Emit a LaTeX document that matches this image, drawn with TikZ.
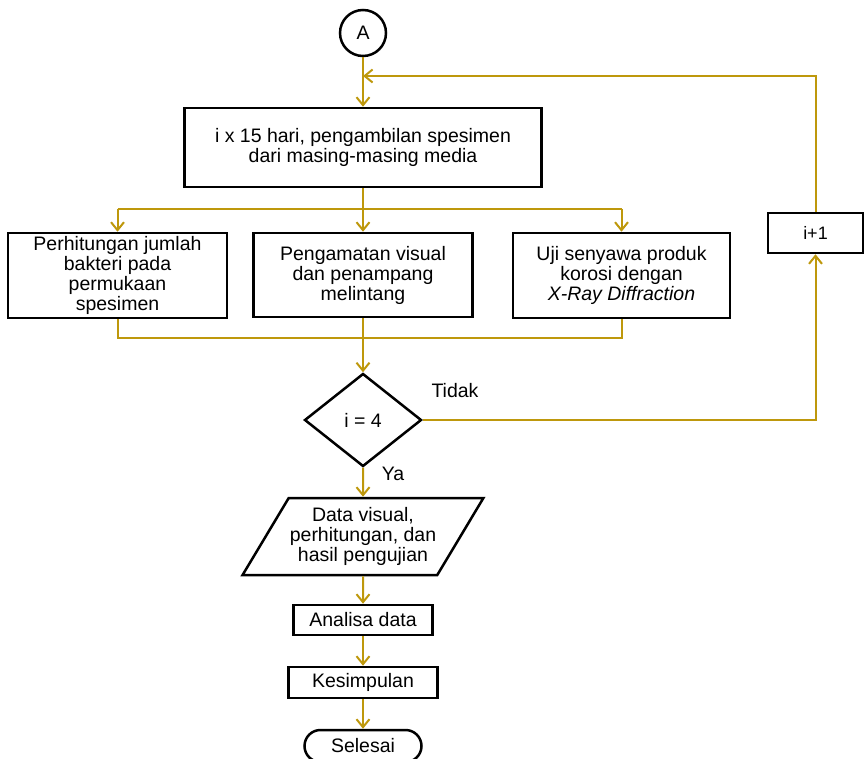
\documentclass[tikz,border=0pt]{standalone}
\usepackage{fontspec}
\setmainfont{Liberation Sans}
\usetikzlibrary{arrows.meta,shapes.geometric}
\definecolor{flowgold}{RGB}{190,152,12}

\begin{document}
\begin{tikzpicture}[x=1pt,y=-1pt,
    font=\fontsize{19.5}{20}\selectfont,
    proc/.style={draw,line width=2.5pt,align=center,inner sep=0pt},
    conn/.style={draw=flowgold,line width=2pt},
    arr/.style={conn,-{Straight Barb[length=8pt,width=13pt]}}]
    \useasboundingbox (0,0) rectangle (864,759);

    % start connector
    \node[circle,draw,line width=2.5pt,minimum size=46pt,inner sep=0pt] (A) at (363,33) {A};

    % sampling step
    \node[proc,minimum width=357pt,minimum height=79pt] (ambil) at (363,147.5) {i x 15 hari, pengambilan spesimen\\dari masing-masing media};

    % three tests
    \node[proc,minimum width=219pt,minimum height=85pt] (bakteri) at (117.5,275.5) {Perhitungan jumlah\\bakteri pada\\permukaan\\spesimen};
    \node[proc,minimum width=219pt,minimum height=84pt] (visual) at (363,275) {Pengamatan visual\\dan penampang\\melintang};
    \node[proc,minimum width=217pt,minimum height=85pt] (xrd) at (621.5,275.5) {Uji senyawa produk\\korosi dengan\\\textit{X-Ray Diffraction}};

    % decision and loop
    \node[diamond,draw,line width=2.5pt,minimum width=117pt,minimum height=93pt,inner sep=0pt] (cek) at (363,420) {i = 4};
    \node (tidak) at (455,391) {Tidak};
    \node (ya) at (393,474) {Ya};
    \node[proc,minimum width=95pt,minimum height=40pt,font=\fontsize{18}{19}\selectfont] (naik) at (815.5,233) {i+1};

    % output and end
    \node[trapezium,trapezium left angle=52,trapezium right angle=128,trapezium stretches=true,draw,line width=2.5pt,minimum width=241pt,minimum height=77pt,align=center,inner sep=0pt] (data) at (363,536.5) {Data visual,\\perhitungan, dan\\hasil pengujian};
    \node[proc,minimum width=139pt,minimum height=30pt] (analisa) at (363,620) {Analisa data};
    \node[proc,minimum width=149pt,minimum height=31pt] (simpul) at (363,682.5) {Kesimpulan};
    \node[draw,line width=2.5pt,rounded corners=16pt,minimum width=117pt,minimum height=32pt,inner sep=0pt] (selesai) at (363,746) {Selesai};

    % connectors
    \coordinate (balik) at (363,76);
    \coordinate (bagi) at (363,209);
    \coordinate (gabung) at (363,338);

    \draw[arr] (A) -- (ambil);
    \draw[arr] (naik.north) |- (balik);
    \draw[conn] (ambil) -- (bagi);
    \draw[conn] (bakteri.north |- bagi) -- (xrd.north |- bagi);
    \draw[arr] (bakteri.north |- bagi) -- (bakteri.north);
    \draw[arr] (bagi) -- (visual);
    \draw[arr] (xrd.north |- bagi) -- (xrd.north);
    \draw[conn] (bakteri.south) |- (gabung) -| (xrd.south);
    \draw[conn] (visual) -- (gabung);
    \draw[arr] (gabung) -- (cek);
    \draw[arr] (cek.east) -| (naik.south);
    \draw[arr] (cek) -- (data);
    \draw[arr] (data) -- (analisa);
    \draw[arr] (analisa) -- (simpul);
    \draw[arr] (simpul) -- (selesai);
\end{tikzpicture}
\end{document}
